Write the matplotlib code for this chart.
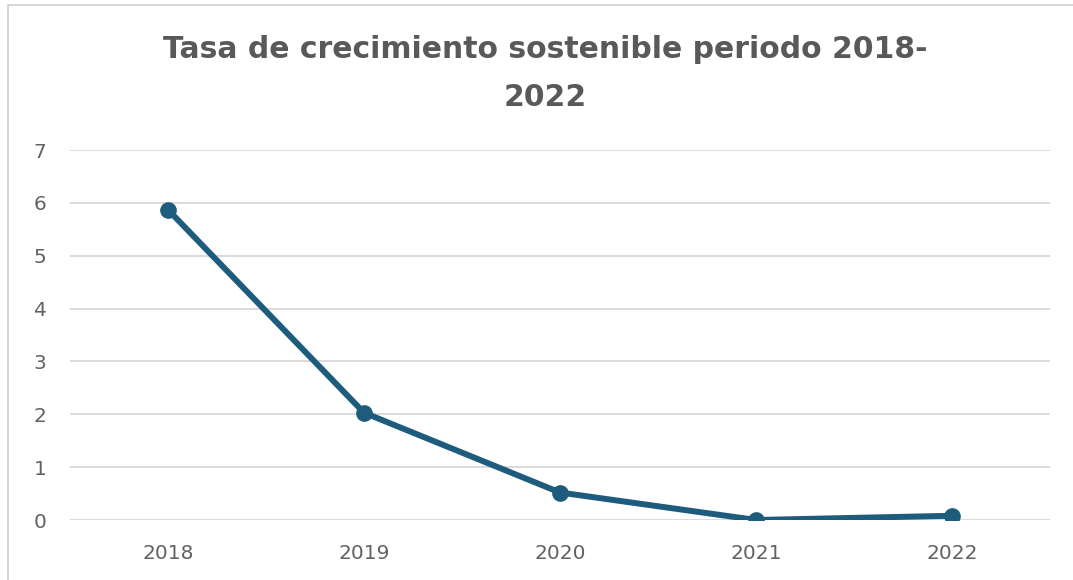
import matplotlib.pyplot as plt
from matplotlib.patches import Rectangle

# datos del gráfico
years = ["2018", "2019", "2020", "2021", "2022"]
growth = [5.87, 2.03, 0.52, 0.0, 0.08]
y_ticks = [0, 1, 2, 3, 4, 5, 6, 7]

LINE_COLOR = "#1d5c7c"
TEXT_COLOR = "#595959"
GRID_COLOR = "#d9d9d9"

fig = plt.figure(figsize=(10.73, 5.8), dpi=100)

# marco del área del gráfico
fig.patches.append(Rectangle((8 / 1073, -0.1), 1.2, 1.1 - 5 / 580, transform=fig.transFigure,
                             fill=False, edgecolor="#d0d0d0", linewidth=1.2))

ax = fig.add_axes([70 / 1073, 60 / 580, 980 / 1073, 370 / 580])
x = list(range(len(years)))
ax.plot(x, growth, color=LINE_COLOR, linewidth=4.3, marker="o", markersize=11,
        solid_capstyle="round", zorder=3)

ax.set_xlim(-0.5, len(years) - 0.5)
ax.set_ylim(0, 7)
ax.set_xticks(x)
ax.set_xticklabels(years)
ax.set_yticks(y_ticks)
ax.yaxis.grid(True, color=GRID_COLOR, linewidth=1.3)
ax.set_axisbelow(True)
for s in ax.spines.values():
    s.set_visible(False)
ax.tick_params(axis="both", length=0, colors="#626262", labelsize=14.5)
ax.tick_params(axis="x", pad=17)
ax.tick_params(axis="y", pad=17)

fig.text(0.508, 1 - 50 / 580, "Tasa de crecimiento sostenible periodo 2018-",
         ha="center", va="center", fontsize=21.5, fontweight="bold",
         color=TEXT_COLOR, family="DejaVu Sans")
fig.text(0.508, 1 - 97 / 580, "2022",
         ha="center", va="center", fontsize=21.5, fontweight="bold",
         color=TEXT_COLOR, family="DejaVu Sans")

fig.savefig("out.png", dpi=100)
